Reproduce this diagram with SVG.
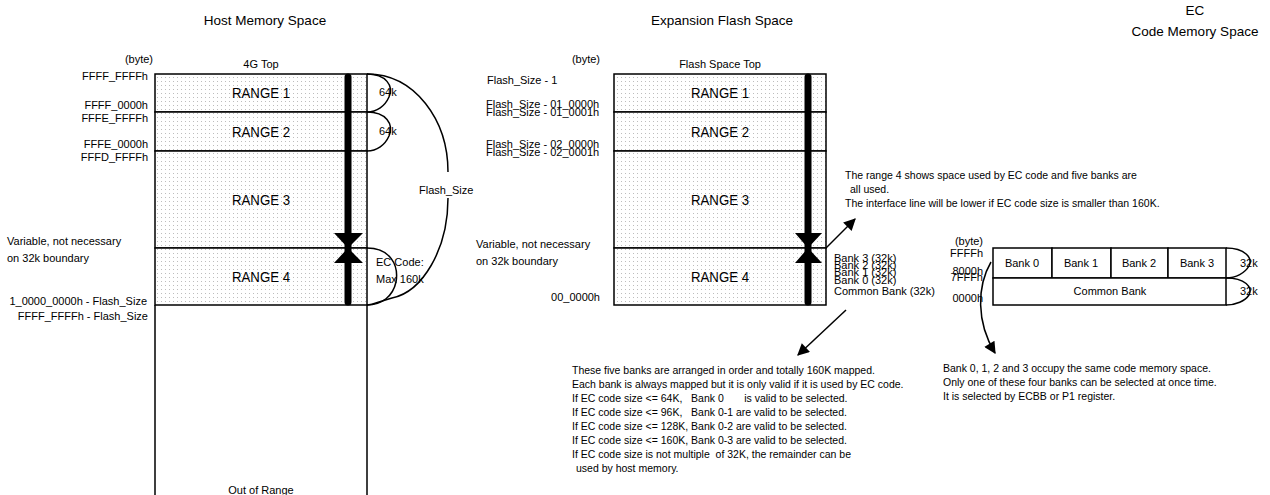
<svg xmlns="http://www.w3.org/2000/svg" width="1270" height="495" viewBox="0 0 1270 495">
<style>
text{font-family:"Liberation Sans",Arial,sans-serif;fill:#000}
.h{font-size:13.5px}
.l{font-size:11px}
.s{font-size:10.5px}
.r{font-size:14px}
.box{fill:url(#dots);stroke:#000;stroke-width:1.5}
.plain{fill:#fff;stroke:#000;stroke-width:1.5}
.ln{stroke:#000;stroke-width:1.5;fill:none}
.br{stroke:#000;stroke-width:1.5;fill:none}
.thick{stroke:#000;stroke-width:7;stroke-linecap:round;fill:none}
.arw{stroke:#000;stroke-width:1.5;fill:none;marker-end:url(#ah)}
</style>
<defs>
<pattern id="dots" width="4" height="4" patternUnits="userSpaceOnUse">
<rect width="4" height="4" fill="#fff"/>
<rect x="1" y="1" width="1" height="1" fill="#bdbdbd"/>
</pattern>
<marker id="ah" viewBox="0 0 10 10" refX="9" refY="5" markerWidth="14" markerHeight="12" markerUnits="userSpaceOnUse" orient="auto">
<path d="M0,0 L10,5 L0,10 z" fill="#000"/>
</marker>
</defs>
<rect width="1270" height="495" fill="#fff"/>

<g id="headings">
<text class="h" x="265" y="25" text-anchor="middle">Host Memory Space</text>
<text class="h" x="722" y="25" text-anchor="middle">Expansion Flash Space</text>
<text class="h" x="1195" y="15" text-anchor="middle">EC</text>
<text class="h" x="1195" y="36" text-anchor="middle">Code Memory Space</text>
</g>

<g id="host-labels">
<text class="l" x="153" y="63" text-anchor="end">(byte)</text>
<text class="l" x="261" y="68" text-anchor="middle">4G Top</text>
<text class="l" x="148" y="80" text-anchor="end">FFFF_FFFFh</text>
<text class="l" x="148" y="109" text-anchor="end">FFFF_0000h</text>
<text class="l" x="148" y="122" text-anchor="end">FFFE_FFFFh</text>
<text class="l" x="148" y="148" text-anchor="end">FFFE_0000h</text>
<text class="l" x="148" y="161" text-anchor="end">FFFD_FFFFh</text>
<text class="l" x="7" y="245">Variable, not necessary</text>
<text class="l" x="7" y="262">on 32k boundary</text>
<text class="l" x="147" y="305" text-anchor="end">1_0000_0000h - Flash_Size</text>
<text class="l" x="148" y="320" text-anchor="end">FFFF_FFFFh - Flash_Size</text>
</g>
<g id="host-range1"><rect class="box" x="155" y="74" width="212" height="38"/><text class="r" x="261" y="98" text-anchor="middle" textLength="58" lengthAdjust="spacingAndGlyphs">RANGE 1</text></g>
<g id="host-range2"><rect class="box" x="155" y="112" width="212" height="39"/><text class="r" x="261" y="137" text-anchor="middle" textLength="58" lengthAdjust="spacingAndGlyphs">RANGE 2</text></g>
<g id="host-range3"><rect class="box" x="155" y="151" width="212" height="97"/><text class="r" x="261" y="205" text-anchor="middle" textLength="58" lengthAdjust="spacingAndGlyphs">RANGE 3</text></g>
<g id="host-range4"><rect class="box" x="155" y="248" width="212" height="57"/><text class="r" x="261" y="282" text-anchor="middle" textLength="58" lengthAdjust="spacingAndGlyphs">RANGE 4</text></g>
<g id="host-out"><path class="ln" d="M155,305 V500 M367,305 V500"/><text class="l" x="261" y="494" text-anchor="middle">Out of Range</text></g>
<g id="host-sizes">
<text class="l" x="379" y="96">64k</text>
<text class="l" x="379" y="135">64k</text>
<text class="l" x="419" y="194">Flash_Size</text>
<text class="l" x="376" y="266">EC Code:</text>
<text class="l" x="376" y="283">Max 160k</text>
</g>

<g id="flash-labels">
<text class="l" x="600" y="63" text-anchor="end">(byte)</text>
<text class="l" x="720" y="68" text-anchor="middle" font-size="10">Flash Space Top</text>
<text class="l" x="487" y="84">Flash_Size - 1</text>
<text class="l" x="486" y="108">Flash_Size - 01_0000h</text>
<text class="l" x="486" y="116">Flash_Size - 01_0001h</text>
<text class="l" x="486" y="148">Flash_Size - 02_0000h</text>
<text class="l" x="486" y="156">Flash_Size - 02_0001h</text>
<text class="l" x="476" y="248">Variable, not necessary</text>
<text class="l" x="476" y="265">on 32k boundary</text>
<text class="l" x="600" y="301" text-anchor="end">00_0000h</text>
</g>
<g id="flash-range1"><rect class="box" x="614" y="74" width="212" height="38"/><text class="r" x="720" y="98" text-anchor="middle" textLength="58" lengthAdjust="spacingAndGlyphs">RANGE 1</text></g>
<g id="flash-range2"><rect class="box" x="614" y="112" width="212" height="39"/><text class="r" x="720" y="137" text-anchor="middle" textLength="58" lengthAdjust="spacingAndGlyphs">RANGE 2</text></g>
<g id="flash-range3"><rect class="box" x="614" y="151" width="212" height="97"/><text class="r" x="720" y="205" text-anchor="middle" textLength="58" lengthAdjust="spacingAndGlyphs">RANGE 3</text></g>
<g id="flash-range4"><rect class="box" x="614" y="248" width="212" height="57"/><text class="r" x="720" y="282" text-anchor="middle" textLength="58" lengthAdjust="spacingAndGlyphs">RANGE 4</text></g>
<g id="flash-banks">
<text class="l" x="834" y="262">Bank 3 (32k)</text>
<text class="l" x="834" y="269">Bank 2 (32k)</text>
<text class="l" x="834" y="276">Bank 1 (32k)</text>
<text class="l" x="834" y="284">Bank 0 (32k)</text>
<text class="l" x="834" y="295">Common Bank (32k)</text>
</g>

<g id="ec-labels">
<text class="l" x="983" y="245" text-anchor="end">(byte)</text>
<text class="l" x="983" y="257" text-anchor="end">FFFFh</text>
<text class="l" x="983" y="275" text-anchor="end">8000h</text>
<text class="l" x="983" y="281" text-anchor="end">7FFFh</text>
<text class="l" x="983" y="302" text-anchor="end">0000h</text>
</g>
<g id="ec-bank0"><rect class="plain" x="993" y="248" width="59" height="30"/><text class="l" x="1022" y="267" text-anchor="middle">Bank 0</text></g>
<g id="ec-bank1"><rect class="plain" x="1052" y="248" width="59" height="30"/><text class="l" x="1081" y="267" text-anchor="middle">Bank 1</text></g>
<g id="ec-bank2"><rect class="plain" x="1111" y="248" width="57" height="30"/><text class="l" x="1139" y="267" text-anchor="middle">Bank 2</text></g>
<g id="ec-bank3"><rect class="plain" x="1168" y="248" width="58" height="30"/><text class="l" x="1197" y="267" text-anchor="middle">Bank 3</text></g>
<g id="ec-common"><rect class="plain" x="993" y="278" width="233" height="27"/><text class="l" x="1110" y="295" text-anchor="middle">Common Bank</text></g>
<g id="ec-sizes">
<text class="l" x="1240" y="267">32k</text>
<text class="l" x="1240" y="295">32k</text>
</g>

<g id="note-range4">
<text class="s" x="845" y="179">The range 4 shows space used by EC code and five banks are</text>
<text class="s" x="850" y="193">all used.</text>
<text class="s" x="845" y="207">The interface line will be lower if EC code size is smaller than 160K.</text>
</g>
<g id="note-banks">
<text class="s" x="572" y="374">These five banks are arranged in order and totally 160K mapped.</text>
<text class="s" x="572" y="388">Each bank is always mapped but it is only valid if it is used by EC code.</text>
<text class="s" x="572" y="402" xml:space="preserve">If EC code size &lt;= 64K,   Bank 0       is valid to be selected.</text>
<text class="s" x="572" y="416" xml:space="preserve">If EC code size &lt;= 96K,   Bank 0-1 are valid to be selected.</text>
<text class="s" x="572" y="430">If EC code size &lt;= 128K, Bank 0-2 are valid to be selected.</text>
<text class="s" x="572" y="444">If EC code size &lt;= 160K, Bank 0-3 are valid to be selected.</text>
<text class="s" x="572" y="458" xml:space="preserve">If EC code size is not multiple  of 32K, the remainder can be</text>
<text class="s" x="576" y="472">used by host memory.</text>
</g>
<g id="note-ec">
<text class="s" x="943" y="372">Bank 0, 1, 2 and 3 occupy the same code memory space.</text>
<text class="s" x="943" y="386">Only one of these four banks can be selected at once time.</text>
<text class="s" x="943" y="400">It is selected by ECBB or P1 register.</text>
</g>

<g id="connectors">
<path class="thick" d="M348,77 V302"/>
<path d="M334,233 H363 L348,248 Z M334,263 H363 L348,248 Z" fill="#000"/>
<path class="thick" d="M808,77 V302"/>
<path d="M795,233 H822 L808,248 Z M795,263 H822 L808,248 Z" fill="#000"/>
<path class="br" d="M367,74 C386,74 394,86 389,97 C385,106 377,112 367,112"/>
<path class="br" d="M367,112 C386,112 394,124 389,136 C385,145 377,151 367,151"/>
<path class="br" d="M367,74 C415,74 448,120 448,172"/>
<path class="br" d="M448,198 C448,250 422,292 392,298 C380,301 373,305 367,305"/>
<path class="br" d="M367,248 C390,248 399,265 396,282 C393,296 382,305 367,305"/>
<path class="br" d="M1226,248 C1245,248 1253,258 1249,266 C1245,273 1236,278 1226,278"/>
<path class="br" d="M1226,278 C1245,278 1253,287 1249,295 C1245,301 1236,305 1226,305"/>
<path class="arw" d="M826,248 L855,219"/>
<path class="arw" d="M846,310 L798,355"/>
<path class="arw" d="M991,262 C977,286 976,322 995,353"/>
</g>
</svg>
